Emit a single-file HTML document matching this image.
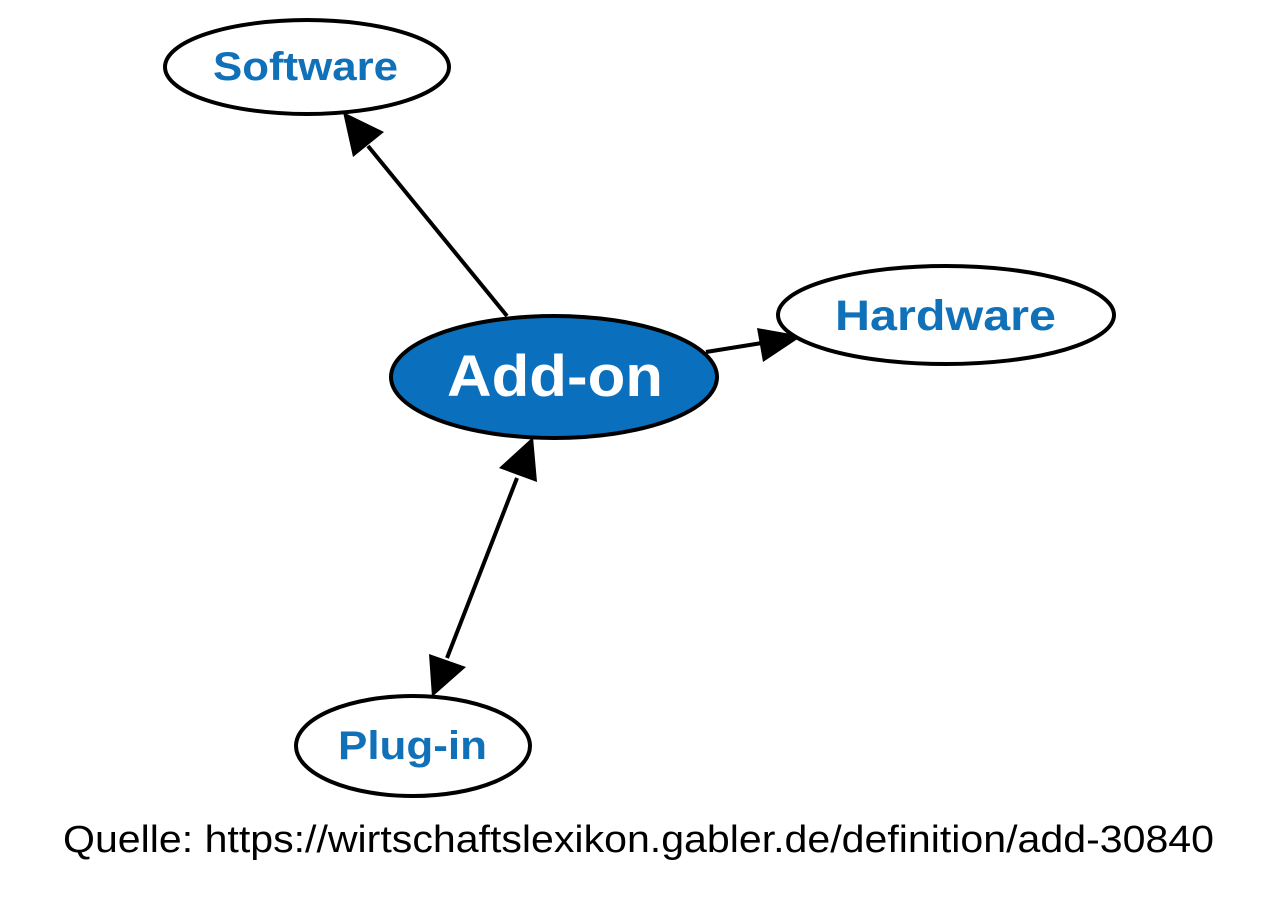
<!DOCTYPE html>
<html><head><meta charset="utf-8"><style>
html,body{margin:0;padding:0;background:#fff;}
svg{display:block;}
text{font-family:"Liberation Sans",Arial,sans-serif;}
</style></head><body>
<svg width="1280" height="907" viewBox="0 0 1280 907" xmlns="http://www.w3.org/2000/svg">
<!-- connectors -->
<line x1="507" y1="316" x2="368" y2="146" stroke="#000" stroke-width="4"/>
<polygon points="343,112 384,132 353,157" fill="#000"/>
<line x1="706" y1="352" x2="762" y2="343" stroke="#000" stroke-width="4"/>
<polygon points="802,336 757,328 763,362" fill="#000"/>
<line x1="517" y1="478" x2="447" y2="658" stroke="#000" stroke-width="4"/>
<polygon points="533,437 537,482 499,468" fill="#000"/>
<polygon points="432,697 429,654 466,667" fill="#000"/>
<!-- nodes -->
<ellipse cx="307" cy="67" rx="142" ry="47" fill="#fff" stroke="#000" stroke-width="4"/>
<text x="213" y="80" font-size="40" font-weight="bold" fill="#1071b9" textLength="185" lengthAdjust="spacingAndGlyphs">Software</text>
<ellipse cx="946" cy="315" rx="168" ry="49" fill="#fff" stroke="#000" stroke-width="4"/>
<text x="835" y="330" font-size="43" font-weight="bold" fill="#1071b9" textLength="221" lengthAdjust="spacingAndGlyphs">Hardware</text>
<ellipse cx="554" cy="377" rx="163" ry="61" fill="#0a70bd" stroke="#000" stroke-width="4"/>
<text x="447" y="396" font-size="58" font-weight="bold" fill="#fff" textLength="216" lengthAdjust="spacingAndGlyphs">Add-on</text>
<ellipse cx="413" cy="746" rx="117" ry="50" fill="#fff" stroke="#000" stroke-width="4"/>
<text x="338" y="759" font-size="40" font-weight="bold" fill="#1071b9" textLength="149" lengthAdjust="spacingAndGlyphs">Plug-in</text>
<text x="63" y="852" font-size="38" fill="#000" textLength="1151" lengthAdjust="spacingAndGlyphs">Quelle: https://wirtschaftslexikon.gabler.de/definition/add-30840</text>
</svg>
</body></html>
